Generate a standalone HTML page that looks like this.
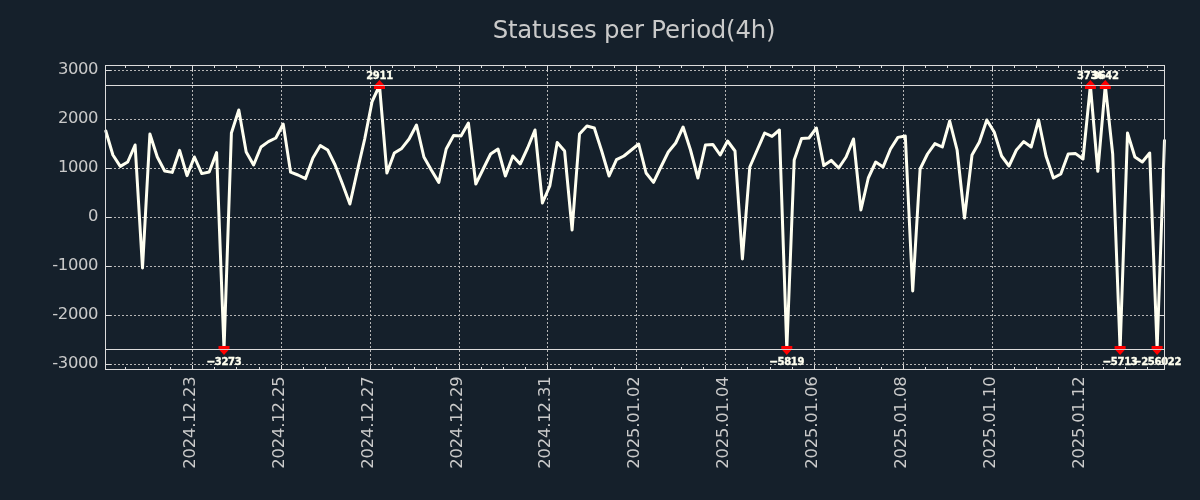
<!DOCTYPE html>
<html lang="en"><head><meta charset="utf-8"><title>Statuses per Period(4h)</title>
<style>
html,body{margin:0;padding:0;background:#15202b;}
body{width:1200px;height:500px;overflow:hidden;}
svg{display:block;}
text{font-family:"DejaVu Sans","Liberation Sans",sans-serif;}
.tick{font-size:16.4px;letter-spacing:-0.4px;fill:#cacaca;}
.xt{letter-spacing:-0.15px;}
.ann{font-size:10px;letter-spacing:-0.3px;font-weight:bold;fill:#fffff0;stroke:#fffff0;stroke-width:0.35px;text-anchor:middle;}
</style></head><body>
<svg width="1200" height="500" viewBox="0 0 1200 500">
<rect width="1200" height="500" fill="#15202b"/>
<defs><clipPath id="ax"><rect x="104.0" y="65.5" width="1062.0" height="304.0"/></clipPath></defs>
<text x="634" y="37.8" text-anchor="middle" font-size="24.4" letter-spacing="-0.22" fill="#cacaca">Statuses per Period(4h)</text>

<g stroke="#b6b6b6" stroke-width="1" stroke-dasharray="2 2" fill="none" shape-rendering="crispEdges">
<line x1="192.5" y1="65.5" x2="192.5" y2="369.5"/>
<line x1="281.5" y1="65.5" x2="281.5" y2="369.5"/>
<line x1="370.5" y1="65.5" x2="370.5" y2="369.5"/>
<line x1="459.5" y1="65.5" x2="459.5" y2="369.5"/>
<line x1="547.5" y1="65.5" x2="547.5" y2="369.5"/>
<line x1="636.5" y1="65.5" x2="636.5" y2="369.5"/>
<line x1="725.5" y1="65.5" x2="725.5" y2="369.5"/>
<line x1="814.5" y1="65.5" x2="814.5" y2="369.5"/>
<line x1="903.5" y1="65.5" x2="903.5" y2="369.5"/>
<line x1="992.5" y1="65.5" x2="992.5" y2="369.5"/>
<line x1="1081.5" y1="65.5" x2="1081.5" y2="369.5"/>
<line x1="105.5" y1="70.5" x2="1164.5" y2="70.5"/>
<line x1="105.5" y1="119.5" x2="1164.5" y2="119.5"/>
<line x1="105.5" y1="168.5" x2="1164.5" y2="168.5"/>
<line x1="105.5" y1="217.5" x2="1164.5" y2="217.5"/>
<line x1="105.5" y1="266.5" x2="1164.5" y2="266.5"/>
<line x1="105.5" y1="315.5" x2="1164.5" y2="315.5"/>
<line x1="105.5" y1="364.5" x2="1164.5" y2="364.5"/>
</g>
<g stroke="#dcdcdc" stroke-width="1" shape-rendering="crispEdges"><line x1="105.5" y1="85.5" x2="1164.5" y2="85.5"/><line x1="105.5" y1="349.5" x2="1164.5" y2="349.5"/></g>
<polyline clip-path="url(#ax)" points="105.5,130.0 112.9,155.0 120.3,166.4 127.7,162.0 135.1,145.0 142.5,268.0 149.9,134.0 157.3,157.0 164.7,171.0 172.2,172.4 179.6,150.4 187.0,175.6 194.4,157.0 201.8,173.6 209.2,172.0 216.6,152.6 224.0,349.5 231.4,133.0 238.8,110.0 246.2,152.0 253.6,165.0 261.0,147.0 268.4,141.6 275.8,138.0 283.2,124.0 290.6,172.2 298.0,175.0 305.5,178.6 312.9,158.0 320.3,145.6 327.7,150.0 335.1,165.0 342.5,184.0 349.9,204.0 357.3,171.0 364.7,139.0 372.1,101.5 379.5,85.5 386.9,173.0 394.3,153.0 401.7,148.4 409.1,139.0 416.5,125.0 423.9,157.0 431.3,170.0 438.8,182.4 446.2,149.0 453.6,135.6 461.0,136.0 468.4,123.0 475.8,184.0 483.2,169.0 490.6,154.0 498.0,149.0 505.4,176.0 512.8,156.0 520.2,164.0 527.6,148.0 535.0,130.0 542.4,203.0 549.8,186.0 557.2,142.4 564.6,151.0 572.1,230.0 579.5,134.0 586.9,126.0 594.3,128.0 601.7,151.0 609.1,176.0 616.5,159.6 623.9,156.0 631.3,150.0 638.7,144.0 646.1,173.0 653.5,182.4 660.9,167.0 668.3,152.0 675.7,143.0 683.1,127.0 690.5,150.0 697.9,178.0 705.4,145.0 712.8,144.4 720.2,155.0 727.6,141.0 735.0,151.0 742.4,259.0 749.8,167.0 757.2,150.0 764.6,133.0 772.0,136.4 779.4,130.0 786.8,349.5 794.2,160.0 801.6,138.6 809.0,138.0 816.4,128.0 823.8,165.6 831.2,160.4 838.7,168.0 846.1,157.0 853.5,139.0 860.9,210.0 868.3,178.0 875.7,162.0 883.1,167.0 890.5,149.0 897.9,137.4 905.3,136.0 912.7,291.0 920.1,169.0 927.5,154.0 934.9,143.6 942.3,147.0 949.7,121.0 957.1,150.0 964.5,218.0 972.0,155.0 979.4,142.0 986.8,120.0 994.2,132.0 1001.6,156.0 1009.0,166.0 1016.4,150.0 1023.8,141.6 1031.2,147.0 1038.6,120.0 1046.0,156.0 1053.4,178.0 1060.8,174.0 1068.2,154.0 1075.6,153.6 1083.0,159.0 1090.4,85.5 1097.8,171.3 1105.3,85.5 1112.7,154.0 1120.1,349.5 1127.5,133.0 1134.9,157.0 1142.3,162.0 1149.7,153.0 1157.1,349.5 1164.5,139.5" fill="none" stroke="#fffff0" stroke-width="3" stroke-linejoin="round" stroke-linecap="butt"/>
<polygon points="379.5,80 385.0,86 385.0,89 374.0,89 374.0,86" fill="#ff0000"/>
<polygon points="1090.4,80 1095.9,86 1095.9,89 1084.9,89 1084.9,86" fill="#ff0000"/>
<polygon points="1105.3,80 1110.8,86 1110.8,89 1099.8,89 1099.8,86" fill="#ff0000"/>
<polygon points="224.0,355 229.5,349 229.5,346 218.5,346 218.5,349" fill="#ff0000"/>
<polygon points="786.8,355 792.3,349 792.3,346 781.3,346 781.3,349" fill="#ff0000"/>
<polygon points="1120.1,355 1125.6,349 1125.6,346 1114.6,346 1114.6,349" fill="#ff0000"/>
<polygon points="1157.1,355 1162.6,349 1162.6,346 1151.6,346 1151.6,349" fill="#ff0000"/>
<g stroke="#dcdcdc" stroke-width="1" shape-rendering="crispEdges" opacity="0.9"><line x1="105.5" y1="85.5" x2="1164.5" y2="85.5"/><line x1="105.5" y1="349.5" x2="1164.5" y2="349.5"/></g>
<text class="ann" x="379.5" y="78.8">2911</text>
<text class="ann" x="1090.4" y="78.8">3736</text>
<text class="ann" x="1105.3" y="78.8">3642</text>
<text class="ann" x="224.0" y="364.6"><tspan stroke-width="0.8">−</tspan>3273</text>
<text class="ann" x="786.8" y="364.6"><tspan stroke-width="0.8">−</tspan>5819</text>
<text class="ann" x="1120.1" y="364.6"><tspan stroke-width="0.8">−</tspan>5713</text>
<text class="ann" x="1157.1" y="364.6"><tspan stroke-width="0.8">−</tspan>256022</text>
<g stroke="#dcdcdc" stroke-width="1" shape-rendering="crispEdges">
<line x1="192.5" y1="65.5" x2="192.5" y2="70.5"/><line x1="192.5" y1="369.5" x2="192.5" y2="364.5"/>
<line x1="281.5" y1="65.5" x2="281.5" y2="70.5"/><line x1="281.5" y1="369.5" x2="281.5" y2="364.5"/>
<line x1="370.5" y1="65.5" x2="370.5" y2="70.5"/><line x1="370.5" y1="369.5" x2="370.5" y2="364.5"/>
<line x1="459.5" y1="65.5" x2="459.5" y2="70.5"/><line x1="459.5" y1="369.5" x2="459.5" y2="364.5"/>
<line x1="547.5" y1="65.5" x2="547.5" y2="70.5"/><line x1="547.5" y1="369.5" x2="547.5" y2="364.5"/>
<line x1="636.5" y1="65.5" x2="636.5" y2="70.5"/><line x1="636.5" y1="369.5" x2="636.5" y2="364.5"/>
<line x1="725.5" y1="65.5" x2="725.5" y2="70.5"/><line x1="725.5" y1="369.5" x2="725.5" y2="364.5"/>
<line x1="814.5" y1="65.5" x2="814.5" y2="70.5"/><line x1="814.5" y1="369.5" x2="814.5" y2="364.5"/>
<line x1="903.5" y1="65.5" x2="903.5" y2="70.5"/><line x1="903.5" y1="369.5" x2="903.5" y2="364.5"/>
<line x1="992.5" y1="65.5" x2="992.5" y2="70.5"/><line x1="992.5" y1="369.5" x2="992.5" y2="364.5"/>
<line x1="1081.5" y1="65.5" x2="1081.5" y2="70.5"/><line x1="1081.5" y1="369.5" x2="1081.5" y2="364.5"/>
<line x1="125.5" y1="65.5" x2="125.5" y2="68.0"/><line x1="125.5" y1="369.5" x2="125.5" y2="367.0"/>
<line x1="148.5" y1="65.5" x2="148.5" y2="68.0"/><line x1="148.5" y1="369.5" x2="148.5" y2="367.0"/>
<line x1="170.5" y1="65.5" x2="170.5" y2="68.0"/><line x1="170.5" y1="369.5" x2="170.5" y2="367.0"/>
<line x1="214.5" y1="65.5" x2="214.5" y2="68.0"/><line x1="214.5" y1="369.5" x2="214.5" y2="367.0"/>
<line x1="236.5" y1="65.5" x2="236.5" y2="68.0"/><line x1="236.5" y1="369.5" x2="236.5" y2="367.0"/>
<line x1="259.5" y1="65.5" x2="259.5" y2="68.0"/><line x1="259.5" y1="369.5" x2="259.5" y2="367.0"/>
<line x1="303.5" y1="65.5" x2="303.5" y2="68.0"/><line x1="303.5" y1="369.5" x2="303.5" y2="367.0"/>
<line x1="325.5" y1="65.5" x2="325.5" y2="68.0"/><line x1="325.5" y1="369.5" x2="325.5" y2="367.0"/>
<line x1="348.5" y1="65.5" x2="348.5" y2="68.0"/><line x1="348.5" y1="369.5" x2="348.5" y2="367.0"/>
<line x1="392.5" y1="65.5" x2="392.5" y2="68.0"/><line x1="392.5" y1="369.5" x2="392.5" y2="367.0"/>
<line x1="414.5" y1="65.5" x2="414.5" y2="68.0"/><line x1="414.5" y1="369.5" x2="414.5" y2="367.0"/>
<line x1="436.5" y1="65.5" x2="436.5" y2="68.0"/><line x1="436.5" y1="369.5" x2="436.5" y2="367.0"/>
<line x1="481.5" y1="65.5" x2="481.5" y2="68.0"/><line x1="481.5" y1="369.5" x2="481.5" y2="367.0"/>
<line x1="503.5" y1="65.5" x2="503.5" y2="68.0"/><line x1="503.5" y1="369.5" x2="503.5" y2="367.0"/>
<line x1="525.5" y1="65.5" x2="525.5" y2="68.0"/><line x1="525.5" y1="369.5" x2="525.5" y2="367.0"/>
<line x1="570.5" y1="65.5" x2="570.5" y2="68.0"/><line x1="570.5" y1="369.5" x2="570.5" y2="367.0"/>
<line x1="592.5" y1="65.5" x2="592.5" y2="68.0"/><line x1="592.5" y1="369.5" x2="592.5" y2="367.0"/>
<line x1="614.5" y1="65.5" x2="614.5" y2="68.0"/><line x1="614.5" y1="369.5" x2="614.5" y2="367.0"/>
<line x1="659.5" y1="65.5" x2="659.5" y2="68.0"/><line x1="659.5" y1="369.5" x2="659.5" y2="367.0"/>
<line x1="681.5" y1="65.5" x2="681.5" y2="68.0"/><line x1="681.5" y1="369.5" x2="681.5" y2="367.0"/>
<line x1="703.5" y1="65.5" x2="703.5" y2="68.0"/><line x1="703.5" y1="369.5" x2="703.5" y2="367.0"/>
<line x1="747.5" y1="65.5" x2="747.5" y2="68.0"/><line x1="747.5" y1="369.5" x2="747.5" y2="367.0"/>
<line x1="770.5" y1="65.5" x2="770.5" y2="68.0"/><line x1="770.5" y1="369.5" x2="770.5" y2="367.0"/>
<line x1="792.5" y1="65.5" x2="792.5" y2="68.0"/><line x1="792.5" y1="369.5" x2="792.5" y2="367.0"/>
<line x1="836.5" y1="65.5" x2="836.5" y2="68.0"/><line x1="836.5" y1="369.5" x2="836.5" y2="367.0"/>
<line x1="859.5" y1="65.5" x2="859.5" y2="68.0"/><line x1="859.5" y1="369.5" x2="859.5" y2="367.0"/>
<line x1="881.5" y1="65.5" x2="881.5" y2="68.0"/><line x1="881.5" y1="369.5" x2="881.5" y2="367.0"/>
<line x1="925.5" y1="65.5" x2="925.5" y2="68.0"/><line x1="925.5" y1="369.5" x2="925.5" y2="367.0"/>
<line x1="947.5" y1="65.5" x2="947.5" y2="68.0"/><line x1="947.5" y1="369.5" x2="947.5" y2="367.0"/>
<line x1="970.5" y1="65.5" x2="970.5" y2="68.0"/><line x1="970.5" y1="369.5" x2="970.5" y2="367.0"/>
<line x1="1014.5" y1="65.5" x2="1014.5" y2="68.0"/><line x1="1014.5" y1="369.5" x2="1014.5" y2="367.0"/>
<line x1="1036.5" y1="65.5" x2="1036.5" y2="68.0"/><line x1="1036.5" y1="369.5" x2="1036.5" y2="367.0"/>
<line x1="1058.5" y1="65.5" x2="1058.5" y2="68.0"/><line x1="1058.5" y1="369.5" x2="1058.5" y2="367.0"/>
<line x1="1103.5" y1="65.5" x2="1103.5" y2="68.0"/><line x1="1103.5" y1="369.5" x2="1103.5" y2="367.0"/>
<line x1="1125.5" y1="65.5" x2="1125.5" y2="68.0"/><line x1="1125.5" y1="369.5" x2="1125.5" y2="367.0"/>
<line x1="1147.5" y1="65.5" x2="1147.5" y2="68.0"/><line x1="1147.5" y1="369.5" x2="1147.5" y2="367.0"/>
<line x1="105.5" y1="70.5" x2="110.5" y2="70.5"/><line x1="1164.5" y1="70.5" x2="1159.5" y2="70.5"/>
<line x1="105.5" y1="119.5" x2="110.5" y2="119.5"/><line x1="1164.5" y1="119.5" x2="1159.5" y2="119.5"/>
<line x1="105.5" y1="168.5" x2="110.5" y2="168.5"/><line x1="1164.5" y1="168.5" x2="1159.5" y2="168.5"/>
<line x1="105.5" y1="217.5" x2="110.5" y2="217.5"/><line x1="1164.5" y1="217.5" x2="1159.5" y2="217.5"/>
<line x1="105.5" y1="266.5" x2="110.5" y2="266.5"/><line x1="1164.5" y1="266.5" x2="1159.5" y2="266.5"/>
<line x1="105.5" y1="315.5" x2="110.5" y2="315.5"/><line x1="1164.5" y1="315.5" x2="1159.5" y2="315.5"/>
<line x1="105.5" y1="364.5" x2="110.5" y2="364.5"/><line x1="1164.5" y1="364.5" x2="1159.5" y2="364.5"/>
</g>
<rect x="105.5" y="65.5" width="1059.0" height="304.0" fill="none" stroke="#dcdcdc" stroke-width="1" shape-rendering="crispEdges"/>
<text class="tick" x="98.0" y="73.8" text-anchor="end">3000</text>
<text class="tick" x="98.0" y="122.8" text-anchor="end">2000</text>
<text class="tick" x="98.0" y="171.8" text-anchor="end">1000</text>
<text class="tick" x="98.0" y="220.8" text-anchor="end">0</text>
<text class="tick" x="98.0" y="269.8" text-anchor="end">-1000</text>
<text class="tick" x="98.0" y="318.8" text-anchor="end">-2000</text>
<text class="tick" x="98.0" y="367.8" text-anchor="end">-3000</text>
<text class="tick xt" transform="translate(194.9,376.5) rotate(-90)" text-anchor="end">2024.12.23</text>
<text class="tick xt" transform="translate(283.8,376.5) rotate(-90)" text-anchor="end">2024.12.25</text>
<text class="tick xt" transform="translate(372.6,376.5) rotate(-90)" text-anchor="end">2024.12.27</text>
<text class="tick xt" transform="translate(461.5,376.5) rotate(-90)" text-anchor="end">2024.12.29</text>
<text class="tick xt" transform="translate(550.4,376.5) rotate(-90)" text-anchor="end">2024.12.31</text>
<text class="tick xt" transform="translate(639.2,376.5) rotate(-90)" text-anchor="end">2025.01.02</text>
<text class="tick xt" transform="translate(728.1,376.5) rotate(-90)" text-anchor="end">2025.01.04</text>
<text class="tick xt" transform="translate(817.0,376.5) rotate(-90)" text-anchor="end">2025.01.06</text>
<text class="tick xt" transform="translate(905.8,376.5) rotate(-90)" text-anchor="end">2025.01.08</text>
<text class="tick xt" transform="translate(994.7,376.5) rotate(-90)" text-anchor="end">2025.01.10</text>
<text class="tick xt" transform="translate(1083.6,376.5) rotate(-90)" text-anchor="end">2025.01.12</text>
</svg></body></html>
